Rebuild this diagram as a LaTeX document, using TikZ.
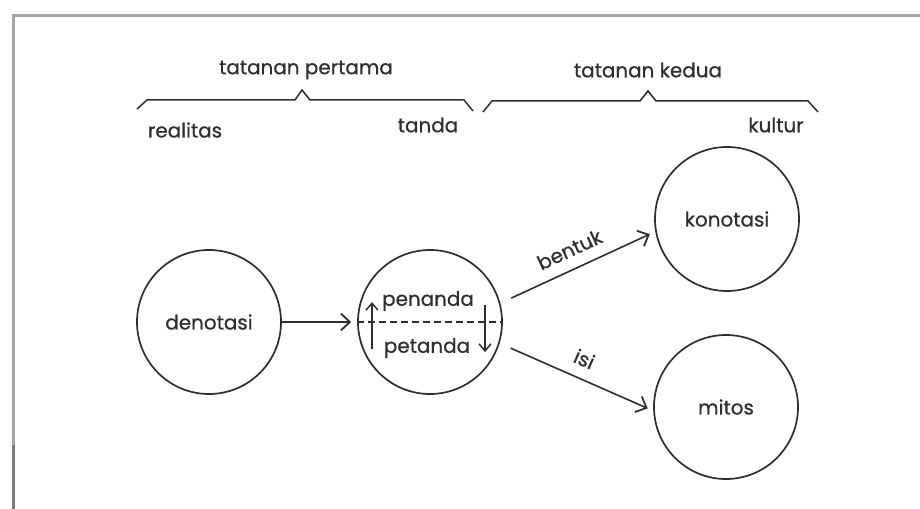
\documentclass[tikz,border=0pt]{standalone}
\usepackage{fontspec}
\setmainfont{Poppins}[FakeBold=0.6]
\usetikzlibrary{arrows.meta}
\definecolor{ink}{HTML}{2E2E2E}
\definecolor{rule}{HTML}{A6A6A6}
\definecolor{ruledark}{HTML}{7C7C7C}
\tikzset{%
    every node/.style={font=\fontsize{20}{24}\selectfont, text=ink},
    ring/.style={circle, draw=ink, line width=1.7bp, minimum size=144bp,
        inner sep=0pt},
    arr/.style={draw=ink, line width=1.6bp,
        -{Straight Barb[length=9bp, width=17bp, line width=1.8bp]}},
    flip/.style={draw=ink, line width=1.5bp,
        -{Straight Barb[length=7bp, width=12bp, line width=1.5bp]}},
    brace/.style={draw=ink, line width=1.5bp, line join=miter}
}

\begin{document}
\begin{tikzpicture}[x=1bp, y=-1bp]
	\useasboundingbox (0,0) rectangle (920,509);
	\draw[rule, line width=3bp] (13,445) -- (13,16) -- (920,16);
	\draw[ruledark, line width=3bp] (13,445) -- (13,509);

	\draw[brace] (137,109) -- (147,100) -- (295,100) -- (302,90)
		-- (310,100) -- (464,100) -- (473,111);
	\draw[brace] (483,112) -- (492,101) -- (640,101) -- (648,91)
		-- (656,101) -- (808,101) -- (818,112);
	\node (pertama) at (306,70) {tatanan pertama};
	\node (kedua) at (648,70) {tatanan kedua};
	\node (realitas) at (185,130) {realitas};
	\node (tandalbl) at (428,125) {tanda};
	\node (kultur) at (776,125) {kultur};

	\node[ring] (denotasi) at (209,322) {denotasi};
	\node[ring] (tanda) at (430,322) {};
	\node[ring] (konotasi) at (727,219) {konotasi};
	\node[ring] (mitos) at (726,407) {mitos};

	\node (penanda) at (428,301) {penanda};
	\node (petanda) at (427,348) {petanda};
	\draw[ink, line width=1.3bp, dash pattern=on 7bp off 4bp]
		(tanda.west) -- (tanda.east);
	\coordinate (upa) at (372,349);
	\coordinate (upb) at (372,302);
	\coordinate (dna) at (485,305);
	\coordinate (dnb) at (485,352);
	\draw[flip] (upa) -- (upb);
	\draw[flip] (dna) -- (dnb);

	\draw[arr, shorten >=6bp] (denotasi.east) -- (tanda.west);
	\draw[arr, shorten <=12bp, shorten >=6bp] (tanda.15)
		-- node[sloped, above=8bp] {bentuk} (konotasi.190);
	\draw[arr, shorten <=12bp, shorten >=6bp] (tanda.343)
		-- node[sloped, above=8bp] {isi} (mitos.183);
\end{tikzpicture}
\end{document}
